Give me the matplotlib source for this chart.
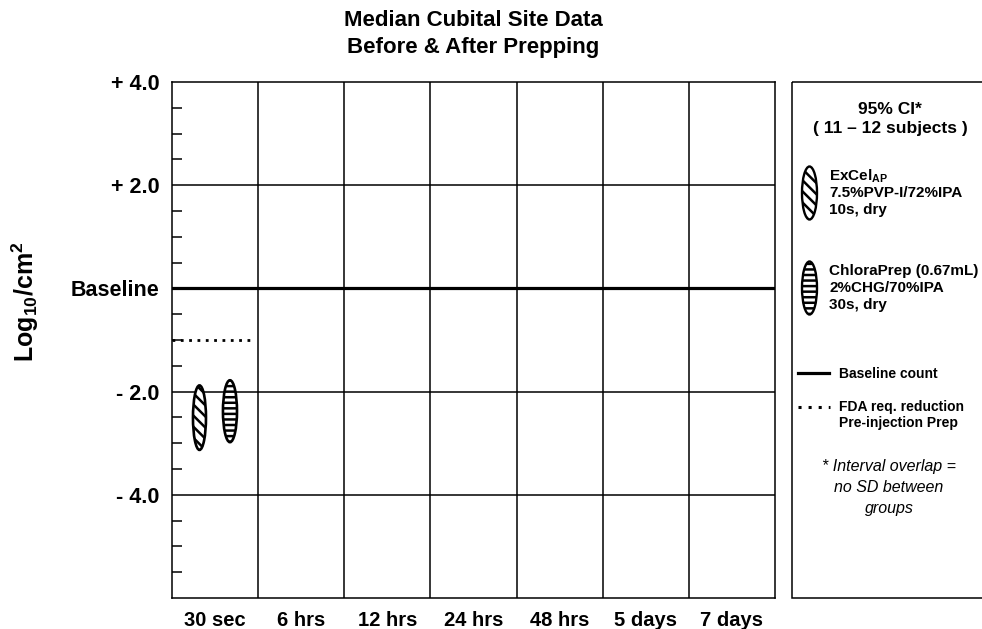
import matplotlib
matplotlib.use("Agg")
import matplotlib.pyplot as plt
from matplotlib.patches import Ellipse, Rectangle
from matplotlib.lines import Line2D
from matplotlib.transforms import Affine2D

plt.rcParams['font.family'] = ['Liberation Sans', 'DejaVu Sans']
plt.rcParams['mathtext.fontset'] = 'custom'
plt.rcParams['mathtext.rm'] = 'Liberation Sans:bold'
plt.rcParams['mathtext.bf'] = 'Liberation Sans:bold'
plt.rcParams['mathtext.it'] = 'Liberation Sans:bold'
plt.rcParams['hatch.linewidth'] = 1.8

# ---------------- data ----------------
time_points = ["30 sec", "6 hrs", "12 hrs", "24 hrs", "48 hrs", "5 days", "7 days"]
y_major = [4.0, 2.0, 0.0, -2.0, -4.0]
y_major_labels = ["+ 4.0", "+ 2.0", "Baseline", "- 2.0", "- 4.0"]
baseline_level = 0.0
fda_level = -1.0
products = ["ExCel", "ChloraPrep"]
ci_time_index = [0, 0]
ci_low = [-3.13, -2.98]
ci_high = [-1.88, -1.78]
hatches = ['\\\\\\', '---']

W, H = 982, 629
fig = plt.figure(figsize=(W / 100, H / 100), dpi=100)
px = Affine2D().scale(1 / W, -1 / H).translate(0, 1) + fig.transFigure

L, R, T, B = 172, 775, 82, 598
ax = fig.add_axes([L / W, (H - B) / H, (R - L) / W, (B - T) / H])
ax.set_xlim(0, len(time_points))
ax.set_ylim(-6, 4)

for s in ax.spines.values():
    s.set_linewidth(1.1)

# grid
for i in range(1, len(time_points)):
    ax.axvline(i, color='black', lw=1.1)
for y in y_major[1:]:
    if y != baseline_level:
        ax.axhline(y, color='black', lw=1.1)
ax.axhline(baseline_level, color='black', lw=2.3, zorder=3)

# FDA dotted line over first time point
ax.plot([0, 0.9], [fda_level, fda_level], color='black', lw=2.0,
        linestyle=(0, (1, 2)), zorder=3)

# CI ellipses
offsets = [-0.181, 0.173]
widths = [0.151, 0.163]
for k in range(len(products)):
    cx = ci_time_index[k] + 0.5 + offsets[k]
    cy = (ci_low[k] + ci_high[k]) / 2
    h = ci_high[k] - ci_low[k]
    e = Ellipse((cx, cy), widths[k], h, facecolor='white', edgecolor='black',
                lw=1.9, hatch=hatches[k], zorder=4)
    ax.add_patch(e)

# ticks
ax.set_xticks([i + 0.5 for i in range(len(time_points))])
ax.set_xticklabels(time_points, fontsize=14.5, fontweight='bold')
ax.tick_params(axis='x', length=0, pad=9)
ax.set_yticks(y_major)
ax.set_yticklabels(y_major_labels, fontsize=15.5, fontweight='bold')
ax.tick_params(axis='y', which='major', length=0, pad=9)
minor = [v / 2 for v in range(-11, 8) if v % 4 != 0]
ax.set_yticks(minor, minor=True)
ax.tick_params(axis='y', which='minor', direction='in', length=7, width=1.1)

# title & y label
fig.text((L + R) / 2 / W, 1 - 21 / H, "Median Cubital Site Data", ha='center', va='center',
         fontsize=16, fontweight='bold')
fig.text((L + R) / 2 / W, 1 - 47 / H, "Before & After Prepping", ha='center', va='center',
         fontsize=16, fontweight='bold')
fig.text(25 / W, 1 - 302 / H, r'Log$_{10}$/cm$^{2}$', rotation=90, ha='center', va='center',
         fontsize=18, fontweight='bold')

# ---------------- legend panel ----------------
fig.add_artist(Rectangle((792, 82), 220, 516, transform=px, facecolor='none',
                         edgecolor='black', lw=1.1))
fig.text(890 / W, 1 - 109 / H, "95% CI*", ha='center', va='center',
         fontsize=12.5, fontweight='bold')
fig.text(890 / W, 1 - 129 / H, "( 11 – 12 subjects )", ha='center', va='center',
         fontsize=12.5, fontweight='bold')

leg_ell_y = [193, 288]
leg_lines = [[r"ExCel$_{\mathbf{AP}}$", "7.5%PVP-I/72%IPA", "10s, dry"],
             ["ChloraPrep (0.67mL)", "2%CHG/70%IPA", "30s, dry"]]
for k in range(len(products)):
    fig.add_artist(Ellipse((809.5, leg_ell_y[k]), 15, 53, transform=px, facecolor='white',
                           edgecolor='black', lw=1.7, hatch=hatches[k]))
    for j, t in enumerate(leg_lines[k]):
        fig.text(829 / W, 1 - (leg_ell_y[k] - 17 + 17 * j) / H, t, ha='left', va='center',
                 fontsize=11, fontweight='bold')

fig.add_artist(Line2D([798, 829], [373, 373], transform=px, color='black', lw=2.3))
fig.text(839 / W, 1 - 374 / H, "Baseline count", ha='left', va='center',
         fontsize=10, fontweight='bold')
fig.add_artist(Line2D([798, 830], [407, 407], transform=px, color='black', lw=2.2,
                      linestyle=(0, (1, 2.3))))
fig.text(839 / W, 1 - 407 / H, "FDA req. reduction", ha='left', va='center',
         fontsize=10, fontweight='bold')
fig.text(839 / W, 1 - 423 / H, "Pre-injection Prep", ha='left', va='center',
         fontsize=10, fontweight='bold')
for j, t in enumerate(["* Interval overlap =", "no SD between", "groups"]):
    fig.text(889 / W, 1 - (466 + 21 * j) / H, t, ha='center', va='center',
             fontsize=11.5, fontstyle='italic')

fig.savefig("out.png", dpi=100)
